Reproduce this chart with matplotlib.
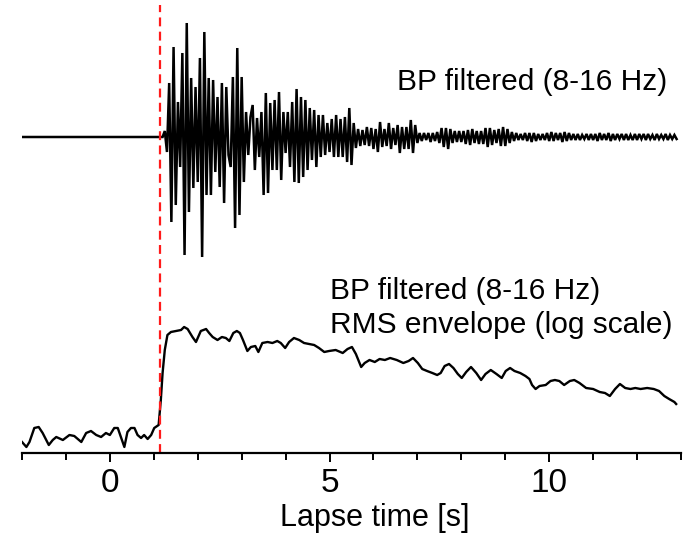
import numpy as np
import matplotlib
matplotlib.use("Agg")
import matplotlib.pyplot as plt
from matplotlib.ticker import MultipleLocator

plt.rcParams['font.family'] = ['Liberation Sans', 'DejaVu Sans']

# ---------------- data ----------------
onset_time = 1.15          # red dashed line [s]
x_limits = [-2.0, 13.0]
major_ticks = [0, 5, 10]
tick_labels = ["0", "5", "10"]

# BP filtered trace: quiet before onset, then samples every 0.05 s
pre_times = [-2.0, 1.2]
pre_values = [0, 0]
wave_start = 1.25
wave_dt = 0.05
wave_values = [
    6, -15, 54, -85, 90, -68, 35, -30, 84, -118, 114, -75, 59, -51, 50, -45, 79, -120, 105, -58,
    59, -58, 57, -35, 40, -50, 54, -66, 50, -18, -30, 60, -91, 89, -78, 60, -45, 25, -18, 20,
    32, -33, 19, -20, 25, -58, 44, -56, 34, -33, 37, -33, 45, -43, 25, -16, 25, -30, 35, -45,
    48, -46, 40, -40, 37, -33, 29, -23, 27, -30, 22, -20, 22, -18, 14, -15, 18, -20, 22, -20,
    18, -20, 20, -25, 29, -28, 14, -11, 8, -9, 7, -8, 10, -9, 9, -12, 8, -15, 15, -10,
    8, -9, 14, -12, 9, -8, 12, -16, 10, -12, 10, -12, 17, -16, 12, -6, 4, -4, 4, -3,
    4, -5, 4, -4, 5, -6, 9, -10, 9, -12, 8, -6, 6, -5, 6, -5, 6, -7, 7, -8,
    8, -6, 6, -7, 6, -7, 9, -10, 9, -8, 7, -6, 8, -9, 10, -9, 8, -6, 5, -4,
    4, -3, 3, -3, 4, -4, 4, -5, 4, -4, 3, -3, 3, -3, 4, -4, 5, -4, 4, -3,
    4, -5, 5, -4, 4, -3, 3, -3, 3, -3, 2, -2, 3, -3, 3, -3, 3, -4, 4, -3,
    3, -3, 4, -4, 3, -3, 3, -2, 3, -3, 3, -3, 2, -3, 3, -3, 3, -2, 3, -3,
    3, -2, 2, -3, 3, -2, 2, -2, 3, -3, 2, -2, 2, -2,
]
wave_baseline = 316

# RMS envelope (log scale), arbitrary units
env_times = [
    -2.00, -1.90, -1.83, -1.72, -1.62, -1.53, -1.39, -1.30, -1.22, -1.07,
    -0.92, -0.81, -0.65, -0.54, -0.43, -0.31, -0.20, -0.09, 0.00, 0.10,
    0.18, 0.25, 0.33, 0.40, 0.48, 0.56, 0.63, 0.71, 0.78, 0.86,
    0.94, 1.01, 1.11, 1.16, 1.20, 1.25, 1.31, 1.39, 1.50, 1.62,
    1.69, 1.77, 1.88, 1.96, 2.07, 2.19, 2.26, 2.34, 2.45, 2.55,
    2.64, 2.72, 2.81, 2.89, 2.96, 3.03, 3.13, 3.21, 3.31, 3.38,
    3.47, 3.59, 3.70, 3.81, 3.89, 3.99, 4.08, 4.19, 4.31, 4.42,
    4.53, 4.65, 4.76, 4.88, 4.99, 5.14, 5.30, 5.41, 5.51, 5.60,
    5.72, 5.80, 5.91, 6.03, 6.14, 6.26, 6.38, 6.53, 6.68, 6.80,
    6.90, 7.01, 7.11, 7.22, 7.34, 7.45, 7.53, 7.62, 7.72, 7.82,
    7.92, 8.01, 8.11, 8.22, 8.34, 8.45, 8.55, 8.67, 8.80, 8.92,
    9.01, 9.11, 9.21, 9.34, 9.46, 9.55, 9.61, 9.69, 9.78, 9.92,
    10.03, 10.13, 10.23, 10.34, 10.47, 10.57, 10.69, 10.84, 11.00, 11.15,
    11.27, 11.38, 11.50, 11.61, 11.73, 11.85, 11.96, 12.08, 12.23, 12.38,
    12.50, 12.62, 12.73, 12.85, 12.89,
]
env_values = [
    11, 6, 11, 25, 26, 20, 8, 13, 16, 13,
    18, 17, 11, 20, 22, 18, 16, 20, 18, 25,
    25, 16, 6, 21, 25, 25, 18, 15, 18, 14,
    18, 25, 28, 53, 80, 103, 118, 121, 122, 123,
    126, 124, 116, 111, 122, 124, 120, 116, 113, 116,
    115, 112, 120, 122, 120, 113, 102, 106, 107, 101,
    110, 111, 110, 112, 110, 105, 111, 115, 113, 110,
    109, 108, 105, 101, 102, 103, 100, 104, 106, 99,
    86, 90, 93, 91, 94, 93, 95, 93, 90, 92,
    95, 90, 84, 82, 80, 78, 80, 87, 89, 85,
    79, 75, 81, 86, 80, 73, 79, 83, 79, 75,
    82, 85, 82, 80, 77, 74, 68, 64, 67, 68,
    72, 73, 72, 68, 72, 73, 70, 65, 64, 61,
    60, 57, 64, 69, 65, 64, 65, 64, 65, 64,
    62, 57, 54, 51, 49,
]

label_top = "BP filtered (8-16 Hz)"
label_env_1 = "BP filtered (8-16 Hz)"
label_env_2 = "RMS envelope (log scale)"
x_label = "Lapse time [s]"

# ---------------- figure ----------------
W, H = 683, 536
fig = plt.figure(figsize=(W / 100, H / 100), dpi=100)
ax = fig.add_axes([22 / W, (H - 453) / H, (681 - 22) / W, 448 / H])

wave_times = wave_start + wave_dt * np.arange(len(wave_values))
t_all = np.concatenate([pre_times, wave_times])
v_all = np.concatenate([pre_values, wave_values]) + wave_baseline
ax.plot(t_all, v_all, color="black", lw=1.8, solid_joinstyle="miter")

ax.plot(env_times, env_values, color="black", lw=1.7, solid_joinstyle="round")

ax.axvline(onset_time, color="#ff1a1a", lw=1.6, ls=(0, (4, 2.4)))

ax.set_xlim(*x_limits)
ax.set_ylim(0, 448)

for s in ["top", "left", "right"]:
    ax.spines[s].set_visible(False)
ax.spines["bottom"].set_linewidth(1.6)
ax.set_yticks([])
ax.set_xticks(major_ticks)
ax.set_xticklabels(tick_labels)
ax.xaxis.set_minor_locator(MultipleLocator(1))
ax.tick_params(axis="x", which="major", direction="out", length=6.5, width=1.4,
               labelsize=24, pad=4)
ax.tick_params(axis="x", which="minor", direction="out", length=5, width=1.4)

fig.text(375 / W, (H - 526) / H, x_label, fontsize=22, ha="center", va="baseline")
fig.text(667 / W, (H - 90) / H, label_top, fontsize=21.5, ha="right", va="baseline")
fig.text(330 / W, (H - 299) / H, label_env_1, fontsize=21.5, ha="left", va="baseline")
fig.text(330 / W, (H - 333) / H, label_env_2, fontsize=21.5, ha="left", va="baseline")

fig.savefig("out.png", dpi=100)
